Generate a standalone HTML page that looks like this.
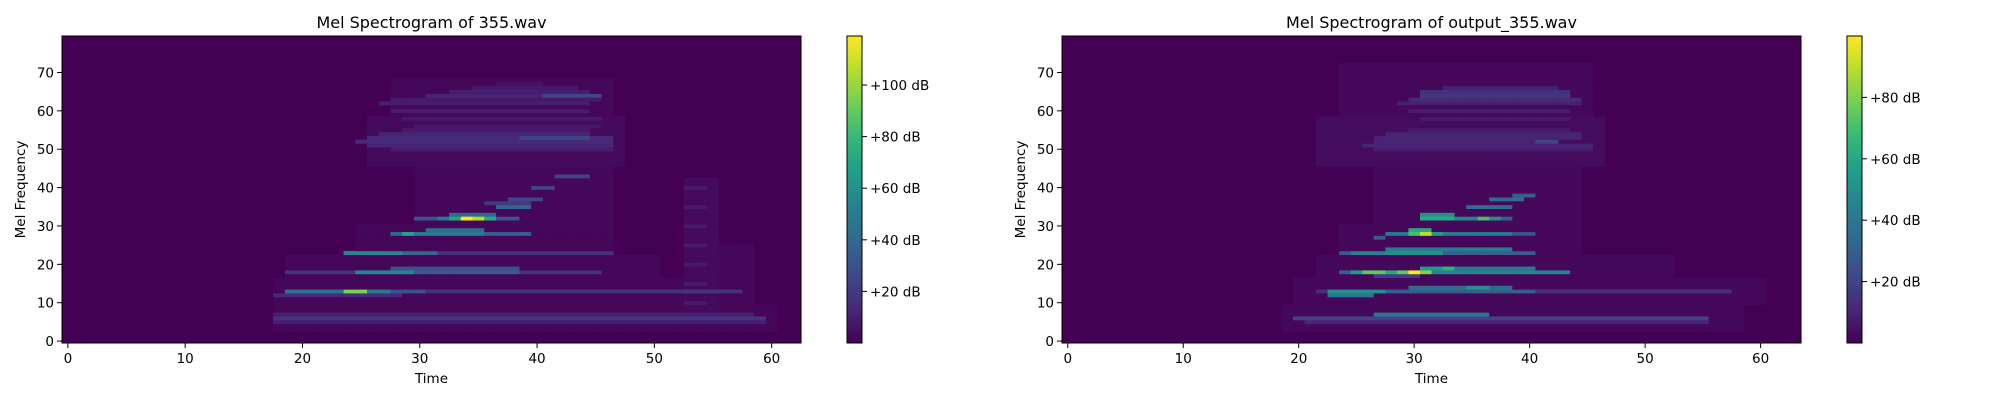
<!DOCTYPE html>
<html><head><meta charset="utf-8"><style>
html,body{margin:0;padding:0;background:#fff;}
svg text{font-family:"DejaVu Sans","Liberation Sans",sans-serif;fill:#000;}
</style></head><body>
<svg id="chart" width="2000" height="400" viewBox="0 0 2000 400" xmlns="http://www.w3.org/2000/svg"></svg>
<script>
// ---- Chart 1: 355.wav (63 frames x 80 mel bins), bands: row, startCol, endCol, dB ----
const c1Rows   = [5,6,7, 12,13,13,13,13,13, 18,18,18,18,19, 23,23,23,23, 28,28,28,28,29, 32,32,32,32,32,32,32,33, 35,36,37,40,43, 50,51,52,53,53,54,55, 56,58,60,62,63,64,64,65,66,67, 10,15,20,25,30,35,40];
const c1Starts = [18,18,18, 18,19,24,26,28,31, 19,25,30,39,28, 24,29,32,43, 28,29,30,36,31, 30,32,33,34,35,36,37,33, 37,36,38,40,42, 28,26,25,26,39,27,29, 30,29,28,27,28,31,41,33,35,37, 53,53,53,53,53,53,53];
const c1Ends   = [59,59,58, 28,23,25,27,30,57, 24,29,38,45,38, 28,31,42,46, 28,29,35,39,35, 31,32,33,34,35,36,38,36, 39,39,40,41,44, 46,46,46,46,44,44,44, 45,45,44,44,45,45,45,44,43,40, 54,54,54,54,54,54,54];
const c1Vals   = [10,18,10, 14,45,95,50,30,17, 18,55,35,18,30, 55,40,18,18, 40,70,50,35,42, 30,50,70,119,105,70,30,40, 38,20,25,25,25, 9,12,14,14,25,12,8, 7,8,9,10,8,12,25,10,8,6, 8,8,8,8,8,8,8];
// haze regions: rowStart,rowEnd,colStart,colEnd,dB
const h1RowStart = [3,10,17,23,31,46,59,8,10];
const h1RowEnd   = [9,16,22,30,45,58,68,42,25];
const h1ColStart = [18,18,19,25,30,26,28,53,55];
const h1ColEnd   = [60,58,50,46,46,47,46,55,58];
const h1Val      = [2,2,2,2,2,3,2,3,2];
const c1Ticks  = [20,40,60,80,100];

// ---- Chart 2: output_355.wav (64 frames x 80 mel bins) ----
const c2Rows   = [5,6,7, 12,13,13,13,14,14, 17,18,18,18,18,18,18,18,18,19,19,19, 23,23,23,24, 27,28,28,28,28,28,28,29, 32,32,32,32,32,33, 35,37,38, 50,51,52,52,53,54,55, 58,60,62,63,64,65,66];
const c2Starts = [21,20,27, 23,22,23,28,30,35, 27,24,25,26,28,29,30,31,32,31,33,34, 24,25,28,28, 27,28,30,31,32,33,39,30, 31,34,36,37,38,31, 35,37,39, 27,26,27,41,27,28,30, 31,30,29,30,31,31,33];
const c2Ends   = [55,55,36, 26,57,27,40,38,36, 30,24,25,27,28,29,30,31,43,32,33,40, 40,27,32,38, 27,29,30,31,32,38,40,31, 33,35,36,37,38,33, 38,39,40, 45,45,42,42,44,44,43, 43,43,44,44,43,43,42];
const c2Vals   = [10,20,40, 40,13,50,30,35,50, 18,30,55,75,60,75,100,80,45,55,65,40, 30,45,50,42, 30,40,70,90,55,40,25,60, 60,45,70,50,30,50, 35,35,30, 8,10,10,20,10,10,7, 7,8,9,12,15,14,9];
const h2RowStart = [3,10,17,23,31,46,59];
const h2RowEnd   = [9,16,22,30,45,58,72];
const h2ColStart = [19,20,22,24,27,22,24];
const h2ColEnd   = [58,60,52,44,44,46,45];
const h2Val      = [2,2,2,2,2,3,2];
const c2Ticks  = [20,40,60,80];

const axisTicks = [0,10,20,30,40,50,60];
const yTicks = [0,10,20,30,40,50,60,70];

const svg = document.getElementById('chart');
const NS = 'http://www.w3.org/2000/svg';
function mk(tag, attrs, parent){ const e=document.createElementNS(NS,tag); for(const k in attrs) e.setAttribute(k,attrs[k]); (parent||svg).appendChild(e); return e; }

const VIR = [[68,1,84],[72,40,120],[62,74,137],[49,104,142],[38,130,142],[31,158,137],[53,183,121],[110,206,88],[181,222,43],[253,231,37]];
function viridis(t){ t=Math.max(0,Math.min(1,t)); const p=t*(VIR.length-1); const i=Math.min(VIR.length-2,Math.floor(p)); const f=p-i;
  const c=VIR[i].map((v,k)=>Math.round(v+(VIR[i+1][k]-v)*f)); return 'rgb('+c.join(',')+')'; }

function drawPanel(cfg){
  const {L,R,T,B,nCols,rows,starts,ends,vals,haze,vmax,cbL,cbTicks,title,key} = cfg;
  const nRows = 80;
  const xs = v => L + (v+0.5)*(R-L)/nCols;
  const ys = v => B - (v+0.5)*(B-T)/nRows;
  const g = mk('g',{});
  
  
  const grid = [];
  for(let r=0;r<nRows;r++){ grid.push(new Array(nCols).fill(0)); }
  for(let i=0;i<haze.rs.length;i++){ for(let r=haze.rs[i];r<=haze.re[i];r++) for(let c=haze.cs[i];c<=haze.ce[i];c++){ if(c<nCols) grid[r][c]=Math.max(grid[r][c],haze.v[i]); } }
  for(let i=0;i<rows.length;i++){ for(let c=starts[i];c<=ends[i];c++){ if(c<nCols) grid[rows[i]][c]=Math.max(grid[rows[i]][c],vals[i]); } }
  const bg = mk('rect',{x:L,y:T,width:R-L,height:B-T,fill:viridis(0)},g);
  
  
  const cw=(R-L)/nCols, rh=(B-T)/nRows;
  for(let r=0;r<nRows;r++) for(let c=0;c<nCols;c++){ const v=grid[r][c]; if(v>0){
    const cell = mk('rect',{x:(xs(c)-cw/2).toFixed(2),y:(ys(r)-rh/2).toFixed(2),width:(cw+0.3).toFixed(2),height:(rh+0.3).toFixed(2),fill:viridis(v/vmax)},g);
    
    
  }}
  const frame = mk('rect',{x:L,y:T,width:R-L,height:B-T,fill:'none',stroke:'#000','stroke-width':1},g);
  
  
  axisTicks.forEach(t=>{ const x=L+(t+0.5)*(R-L)/nCols;
    mk('line',{x1:x,x2:x,y1:B,y2:B+5,stroke:'#000'},g);
    const tx=mk('text',{x:x,y:B+20,'font-size':13.5,'text-anchor':'middle'},g); tx.textContent=t;
    
     });
  yTicks.forEach(t=>{ const y=ys(t);
    mk('line',{x1:L-5,x2:L,y1:y,y2:y,stroke:'#000'},g);
    const tx=mk('text',{x:L-8,y:y+5,'font-size':13.5,'text-anchor':'end'},g); tx.textContent=t;
    
     });
  const tt=mk('text',{x:(L+R)/2,y:28,'font-size':16,'text-anchor':'middle'},g); tt.textContent=title;
  
  
  const xl=mk('text',{x:(L+R)/2,y:383,'font-size':13.5,'text-anchor':'middle'},g); xl.textContent='Time';
  
  
  const yl=mk('text',{x:0,y:0,'font-size':13.5,'text-anchor':'middle',transform:'translate('+(L-37)+','+((T+B)/2)+') rotate(-90)'},g); yl.textContent='Mel Frequency';
  
  
  const defs=mk('defs',{},g);
  const grad=mk('linearGradient',{id:key+'grad',x1:0,y1:1,x2:0,y2:0},defs);
  for(let i=0;i<VIR.length;i++) mk('stop',{offset:i/(VIR.length-1),'stop-color':'rgb('+VIR[i].join(',')+')'},grad);
  const cb=mk('rect',{x:cbL,y:T,width:15,height:B-T,fill:'url(#'+key+'grad)',stroke:'#000','stroke-width':1},g);
  
  
  cbTicks.forEach(t=>{ const y=B-t/vmax*(B-T);
    mk('line',{x1:cbL+15,x2:cbL+20,y1:y,y2:y,stroke:'#000'},g);
    const tx=mk('text',{x:cbL+23,y:y+5,'font-size':13.5},g); tx.textContent='+'+t+' dB';
    
     });
}
drawPanel({L:62,R:801,T:36,B:343,nCols:63,rows:c1Rows,starts:c1Starts,ends:c1Ends,vals:c1Vals,
  haze:{rs:h1RowStart,re:h1RowEnd,cs:h1ColStart,ce:h1ColEnd,v:h1Val},
  vmax:119,cbL:847,cbTicks:c1Ticks,title:'Mel Spectrogram of 355.wav',key:'input'});
drawPanel({L:1062,R:1801,T:36,B:343,nCols:64,rows:c2Rows,starts:c2Starts,ends:c2Ends,vals:c2Vals,
  haze:{rs:h2RowStart,re:h2RowEnd,cs:h2ColStart,ce:h2ColEnd,v:h2Val},
  vmax:100,cbL:1847,cbTicks:c2Ticks,title:'Mel Spectrogram of output_355.wav',key:'output'});
</script>
</body></html>
